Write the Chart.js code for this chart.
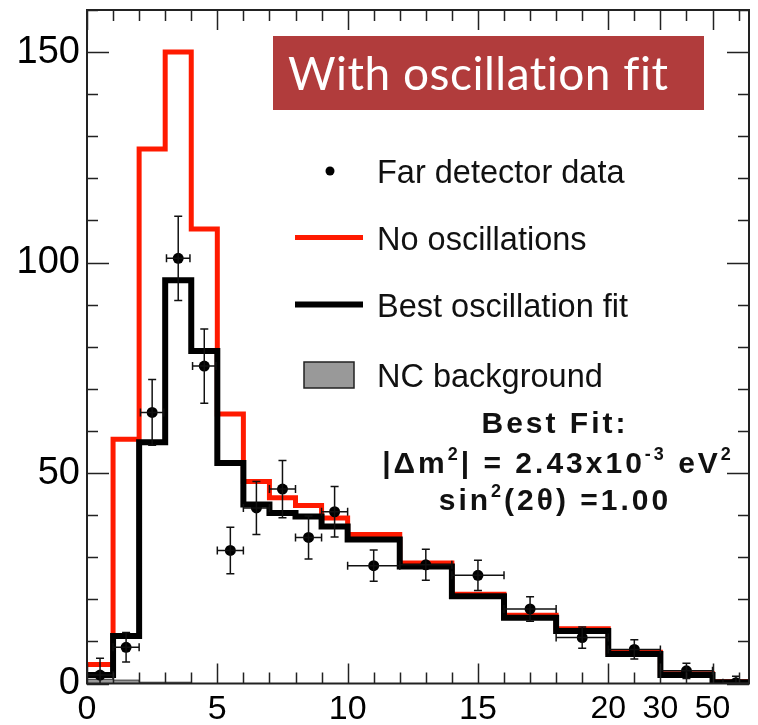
<!DOCTYPE html>
<html>
<head>
<meta charset="utf-8">
<title>Far detector spectrum - with oscillation fit</title>
<script src="https://cdn.jsdelivr.net/npm/chart.js@4.4.1/dist/chart.umd.min.js"></script>
<style>
  html, body { margin: 0; padding: 0; background: #fff; }
  #wrap { width: 758px; height: 725px; }
</style>
</head>
<body>
<div id="wrap"><canvas id="chart" width="758" height="725"></canvas></div>
<script>
// --- DATA ---
// bin edges in axis units; above 20 the axis is compressed (20 -> 30 -> 50)
const binEdges = [0, 1, 2, 3, 4, 5, 6, 7, 8, 9, 10, 12, 14, 16, 18, 20, 22, 24, 25.4];
const noOscillations = [4.5, 58, 127, 150, 108, 64, 48, 44.1, 42.3, 39.3, 35.4, 28.6, 21.2, 16.2, 13, 7.4, 2.3, 0.4];
const bestFit = [2, 11.3, 57.3, 95.8, 79, 52.4, 42.5, 40.5, 39.7, 37.3, 34.2, 27.8, 20.7, 15.6, 12.5, 7, 2, 0.3];
const ncBackground = [1, 0.8, 0.3, 0.3, 0, 0, 0, 0, 0, 0, 0, 0, 0, 0, 0, 0, 0, 0];

const dataX = [0.5, 1.5, 2.5, 3.5, 4.5, 5.5, 6.5, 7.5, 8.5, 9.5, 11, 13, 15, 17, 19, 21, 23, 24.9];
const dataY = [2, 8.6, 64.4, 101, 75.4, 31.6, 41.7, 46.2, 34.7, 40.8, 28, 28.2, 25.7, 17.7, 10.9, 8.1, 3, 0.2];
const dataXErr = [0.5, 0.5, 0.45, 0.45, 0.45, 0.5, 0.5, 0.5, 0.5, 0.5, 1, 1, 1, 1, 1, 1, 1, 0.5];
const dataYErr = [4, 3.5, 7.8, 10, 8.8, 5.5, 6.3, 6.8, 5.1, 6, 3.7, 3.7, 3.6, 2.9, 2.5, 2.3, 1.8, 1.5];

const xTickPos = [0, 5, 10, 15, 20, 22, 24];
const xTickLabels = ['0', '5', '10', '15', '20', '30', '50'];
const yTickValues = [0, 50, 100, 150];

const X_MAX = 25.4;
const Y_MAX = 160;
const FONT = '"Liberation Sans", Arial, sans-serif';

// histogram as step line: one point per left edge plus the closing edge
const histPoints = (values) => {
    const pts = values.map((v, i) => ({ x: binEdges[i], y: v }));
    pts.push({ x: binEdges[binEdges.length - 1], y: values[values.length - 1] });
    return pts;
};

// --- PLUGINS ---
// error bars for the data points, through the chart scales
const errorBars = {
    id: 'errorBars',
    afterDatasetsDraw(chart) {
        const { ctx, scales: { x, y } } = chart;
        ctx.save();
        ctx.beginPath();
        ctx.rect(chart.chartArea.left, chart.chartArea.top, chart.chartArea.width, chart.chartArea.height);
        ctx.clip();
        ctx.strokeStyle = '#111';
        ctx.lineWidth = 1.5;
        dataX.forEach((xv, i) => {
            const px = x.getPixelForValue(xv);
            const py = y.getPixelForValue(dataY[i]);
            const x0 = x.getPixelForValue(xv - dataXErr[i]);
            const x1 = x.getPixelForValue(xv + dataXErr[i]);
            const y0 = y.getPixelForValue(dataY[i] - dataYErr[i]);
            const y1 = y.getPixelForValue(dataY[i] + dataYErr[i]);
            ctx.beginPath();
            ctx.moveTo(x0, py); ctx.lineTo(x1, py);
            ctx.moveTo(x0, py - 4); ctx.lineTo(x0, py + 4);
            ctx.moveTo(x1, py - 4); ctx.lineTo(x1, py + 4);
            ctx.moveTo(px, y0); ctx.lineTo(px, y1);
            ctx.moveTo(px - 4, y0); ctx.lineTo(px + 4, y0);
            ctx.moveTo(px - 4, y1); ctx.lineTo(px + 4, y1);
            ctx.stroke();
        });
        ctx.restore();
    }
};

// ROOT-style frame with ticks pointing inwards on all four sides
const frameTicks = {
    id: 'frameTicks',
    afterDraw(chart) {
        const { ctx, chartArea: a, scales: { x, y } } = chart;
        ctx.save();
        ctx.strokeStyle = '#222';
        ctx.lineWidth = 1.5;
        ctx.beginPath();
        for (let v = 0; v <= Y_MAX; v += 10) {
            const py = Math.round(y.getPixelForValue(v)) + 0.5;
            const len = v % 50 === 0 ? 22 : 11;
            ctx.moveTo(a.left, py); ctx.lineTo(a.left + len, py);
            ctx.moveTo(a.right, py); ctx.lineTo(a.right - len, py);
        }
        for (let v = 0; v <= 25; v += 1) {
            const px = Math.round(x.getPixelForValue(v)) + 0.5;
            const len = xTickPos.includes(v) ? 20 : 11;
            ctx.moveTo(px, a.bottom); ctx.lineTo(px, a.bottom - len);
            ctx.moveTo(px, a.top); ctx.lineTo(px, a.top + len);
        }
        ctx.stroke();
        ctx.lineWidth = 2;
        ctx.strokeRect(a.left, a.top, a.right - a.left, a.bottom - a.top);
        ctx.restore();
    }
};

// draw text made of normal and superscript pieces, centred on cx
const drawRich = (ctx, segs, cx, baseline, size) => {
    const supSize = Math.round(size * 0.6);
    const widthOf = (s) => {
        ctx.font = `bold ${s.sup ? supSize : size}px ${FONT}`;
        return ctx.measureText(s.t).width;
    };
    const total = segs.reduce((w, s) => w + widthOf(s), 0);
    let px = cx - total / 2;
    segs.forEach(s => {
        ctx.font = `bold ${s.sup ? supSize : size}px ${FONT}`;
        ctx.fillText(s.t, px, s.sup ? baseline - size * 0.42 : baseline);
        px += ctx.measureText(s.t).width;
    });
};

// legend, title box and fit result
const annotations = {
    id: 'annotations',
    afterDraw(chart) {
        const { ctx } = chart;
        ctx.save();

        // title box
        ctx.fillStyle = '#b13c3c';
        ctx.fillRect(273, 36, 431, 74);
        ctx.fillStyle = '#fff';
        ctx.font = `46px Lato, "Open Sans", sans-serif`;
        ctx.letterSpacing = '0.5px';
        ctx.textBaseline = 'alphabetic';
        ctx.fillText('With oscillation fit', 288, 90);
        ctx.letterSpacing = '0px';

        // legend
        ctx.fillStyle = '#000';
        ctx.beginPath();
        ctx.arc(330, 171, 4.5, 0, Math.PI * 2);
        ctx.fill();
        ctx.lineWidth = 5;
        ctx.strokeStyle = '#ff1a00';
        ctx.beginPath(); ctx.moveTo(295, 237.5); ctx.lineTo(363, 237.5); ctx.stroke();
        ctx.lineWidth = 6;
        ctx.strokeStyle = '#000';
        ctx.beginPath(); ctx.moveTo(295, 304.5); ctx.lineTo(363, 304.5); ctx.stroke();
        ctx.fillStyle = '#999';
        ctx.fillRect(304, 362, 50, 26);
        ctx.lineWidth = 1.5;
        ctx.strokeStyle = '#222';
        ctx.strokeRect(304, 362, 50, 26);

        ctx.fillStyle = '#111';
        ctx.font = `32.5px ${FONT}`;
        ctx.fillText('Far detector data', 377, 183);
        ctx.fillText('No oscillations', 377, 250);
        ctx.fillText('Best oscillation fit', 377, 317);
        ctx.fillText('NC background', 377, 387);

        // fit result
        ctx.letterSpacing = '3px';
        ctx.textAlign = 'left';
        drawRich(ctx, [{ t: 'Best Fit:' }], 555, 433, 30);
        drawRich(ctx, [
            { t: '|Δm' }, { t: '2', sup: true }, { t: '| = 2.43x10' },
            { t: '-3', sup: true }, { t: ' eV' }, { t: '2', sup: true }
        ], 558, 473, 30);
        drawRich(ctx, [{ t: 'sin' }, { t: '2', sup: true }, { t: '(2θ) =1.00' }], 555, 510, 30);
        ctx.restore();
    }
};

// --- CHART ---
const ctx = document.getElementById('chart').getContext('2d');
new Chart(ctx, {
    data: {
        datasets: [
            {
                type: 'scatter',
                label: 'Far detector data',
                data: dataX.map((x, i) => ({ x, y: dataY[i] })),
                backgroundColor: '#000',
                borderWidth: 0,
                pointRadius: 5.5,
                order: 0
            },
            {
                type: 'line',
                label: 'Best oscillation fit',
                data: histPoints(bestFit),
                stepped: 'before',
                borderColor: '#000',
                borderWidth: 6,
                pointRadius: 0,
                fill: false,
                order: 1
            },
            {
                type: 'line',
                label: 'No oscillations',
                data: histPoints(noOscillations),
                stepped: 'before',
                borderColor: '#ff1a00',
                borderWidth: 5,
                pointRadius: 0,
                fill: false,
                order: 2
            },
            {
                type: 'line',
                label: 'NC background',
                data: histPoints(ncBackground),
                stepped: 'before',
                borderColor: '#333',
                borderWidth: 1,
                backgroundColor: '#999',
                pointRadius: 0,
                fill: 'origin',
                order: 3
            }
        ]
    },
    options: {
        responsive: false,
        animation: false,
        devicePixelRatio: 1,
        layout: { padding: { top: 10, right: 9, left: 0, bottom: 0 } },
        plugins: { legend: { display: false }, tooltip: { enabled: false } },
        scales: {
            x: {
                type: 'linear',
                min: 0,
                max: X_MAX,
                grid: { display: false, drawTicks: false },
                border: { display: false },
                afterBuildTicks: (scale) => { scale.ticks = xTickPos.map(v => ({ value: v })); },
                afterFit: (scale) => {
                    scale.height = 41.5;
                    scale.paddingLeft = 0;
                    scale.paddingRight = 0;
                },
                ticks: {
                    autoSkip: false,
                    maxRotation: 0,
                    padding: 6,
                    color: '#000',
                    font: (c) => ({ family: FONT, size: c.tick && c.tick.value >= 20 ? 32 : 34 }),
                    callback: (value) => xTickLabels[xTickPos.indexOf(value)]
                }
            },
            y: {
                type: 'linear',
                min: 0,
                max: Y_MAX,
                grid: { display: false, drawTicks: false },
                border: { display: false },
                afterBuildTicks: (scale) => { scale.ticks = yTickValues.map(v => ({ value: v })); },
                afterFit: (scale) => {
                    scale.width = 87;
                    scale.paddingTop = 0;
                    scale.paddingBottom = 0;
                },
                ticks: {
                    padding: 7,
                    color: '#000',
                    font: { family: FONT, size: 38 }
                }
            }
        }
    },
    plugins: [errorBars, frameTicks, annotations]
});
</script>
</body>
</html>
